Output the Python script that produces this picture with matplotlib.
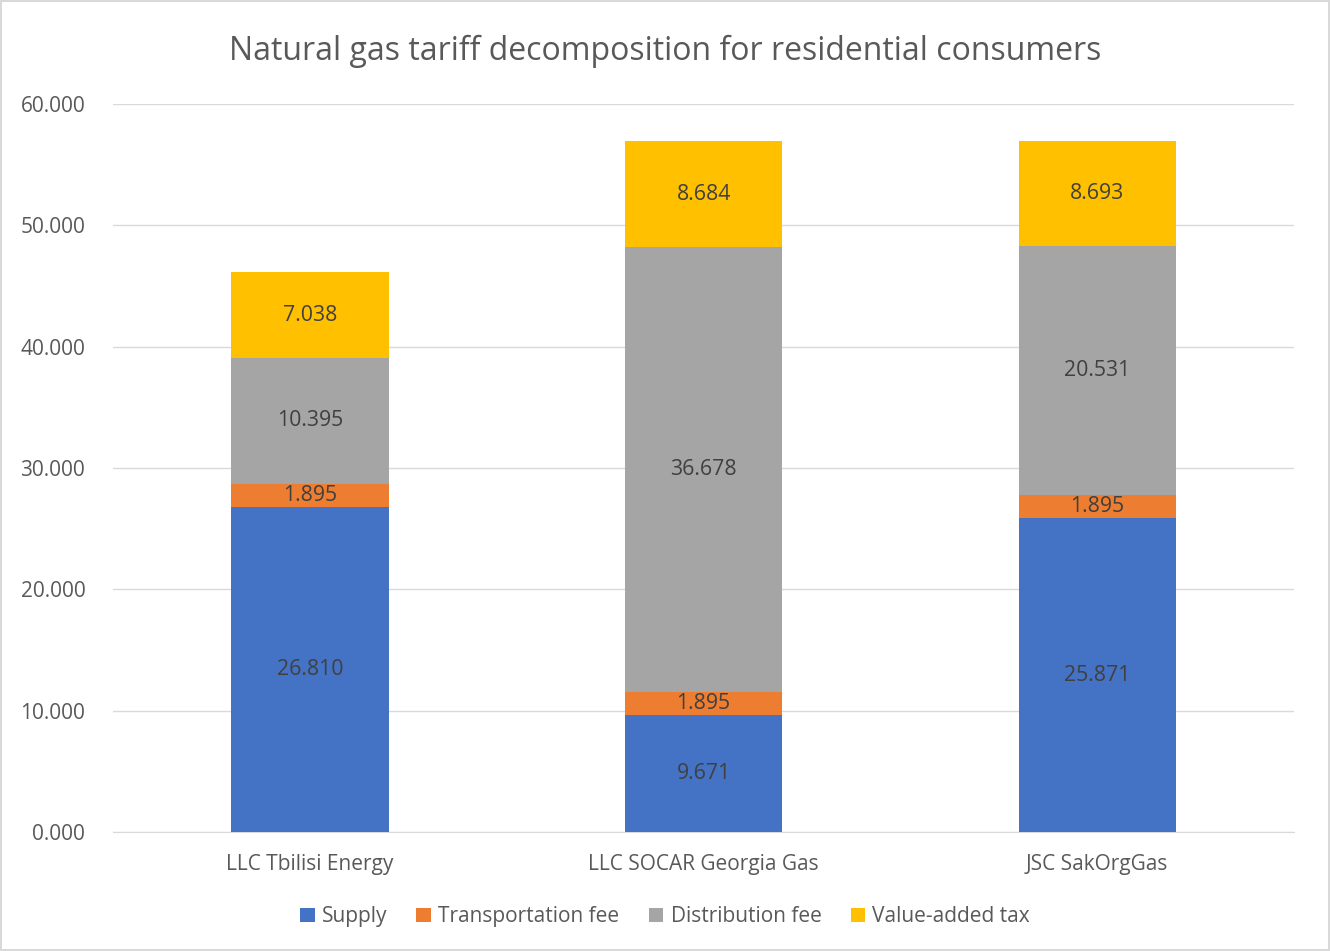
import matplotlib.pyplot as plt
import numpy as np

plt.rcParams['font.family'] = ['Open Sans', 'DejaVu Sans']

companies = ['LLC Tbilisi Energy', 'LLC SOCAR Georgia Gas', 'JSC SakOrgGas']
series = ['Supply', 'Transportation fee', 'Distribution fee', 'Value-added tax']
supply = [26.810, 9.671, 25.871]
transport = [1.895, 1.895, 1.895]
distribution = [10.395, 36.678, 20.531]
vat = [7.038, 8.684, 8.693]
colors = ['#4472C4', '#ED7D31', '#A5A5A5', '#FFC000']

fig = plt.figure(figsize=(13.3, 9.51), dpi=100)
fig.patch.set_edgecolor('#D9D9D9')
fig.patch.set_linewidth(1.5)
ax = fig.add_axes([0.085, 0.125, 0.888, 0.7655])

x = np.arange(len(companies))
bottom = np.zeros(len(companies))
for name, vals, c in zip(series, [supply, transport, distribution, vat], colors):
    ax.bar(x, vals, 0.4, bottom=bottom, color=c, label=name, zorder=3)
    for xi, b, v in zip(x, bottom, vals):
        ax.text(xi, b + v / 2, f'{v:.3f}', ha='center', va='center',
                fontsize=15.3, color='#404040', zorder=4)
    bottom += np.array(vals)

ax.set_xlim(-0.5, 2.5)
ax.set_ylim(0, 60)
ax.set_yticks(np.arange(0, 61, 10))
ax.set_yticklabels([f'{v:.3f}' for v in np.arange(0, 61, 10)])
ax.set_xticks(x)
ax.set_xticklabels(companies)
ax.tick_params(axis='both', length=0, labelsize=15, colors='#595959')
ax.tick_params(axis='y', pad=20)
ax.tick_params(axis='x', pad=16)
ax.grid(axis='y', color='#D9D9D9', linewidth=1, zorder=0)
for s in ['top', 'right', 'left']:
    ax.spines[s].set_visible(False)
ax.spines['bottom'].set_color('#D9D9D9')

fig.text(0.5, 0.946, 'Natural gas tariff decomposition for residential consumers',
         ha='center', va='center', fontsize=23, color='#595959')

fig.legend(loc='center', bbox_to_anchor=(0.5, 0.036), ncol=4, frameon=False,
           fontsize=15, handlelength=0.7, handleheight=0.7, columnspacing=1.4,
           handletextpad=0.35, labelcolor='#595959')

fig.savefig('out.png', dpi=100)
